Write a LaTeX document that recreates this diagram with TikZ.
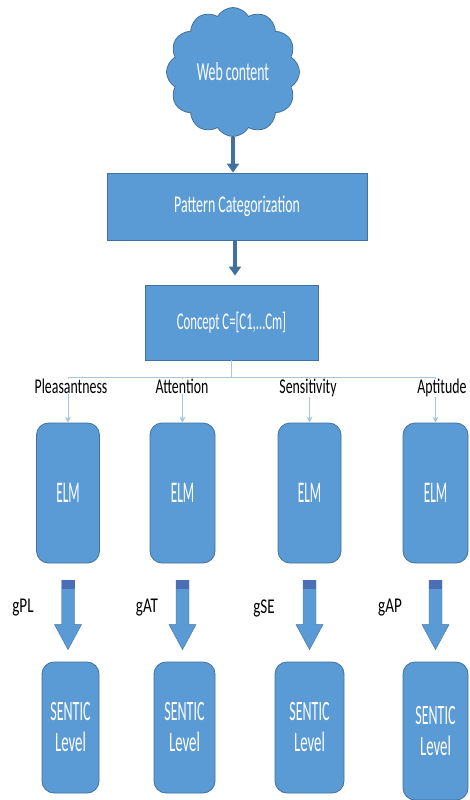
\documentclass[tikz,border=0pt]{standalone}
\usepackage{fontspec}
\setmainfont{Carlito}
\usepackage{graphicx}
\usetikzlibrary{shapes.symbols,arrows.meta,calc}
\definecolor{boxblue}{HTML}{5B9BD5}
\definecolor{boxedge}{HTML}{41719C}
\definecolor{connline}{HTML}{A9C4DE}
\definecolor{arrowtop}{HTML}{4A6FB5}
\newcommand{\sq}[2]{\scalebox{#1}[1]{#2}}
\newcommand{\blockarrow}[2]{%
  \path let \p1=(#1.south), \p2=(#2.north) in
    [fill=boxblue,draw=boxedge,line width=0.4pt]
    (\x1-6.5pt,\y1-17pt) -- (\x1+6.5pt,\y1-17pt) -- (\x1+6.5pt,\y2+37pt)
    -- (\x1+13.5pt,\y2+37pt) -- (\x1,\y2+12pt) -- (\x1-13.5pt,\y2+37pt)
    -- (\x1-6.5pt,\y2+37pt) -- cycle;
  \path let \p1=(#1.south) in
    [fill=arrowtop] (\x1-6.5pt,\y1-17pt) rectangle (\x1+6.5pt,\y1-26pt);}
\begin{document}
\begin{tikzpicture}[x=1pt,y=-1pt,
  bluebox/.style={fill=boxblue,draw=boxedge,line width=0.8pt,text=white,inner sep=0pt},
  tallbox/.style={bluebox,rounded corners=12pt,minimum width=63pt,minimum height=140pt,
    font=\fontsize{30}{30}\selectfont},
  levelbox/.style={bluebox,rounded corners=12pt,minimum height=131pt,align=center,
    font=\fontsize{28}{31}\selectfont},
  lab/.style={fill=white,inner sep=0pt,text=black,font=\fontsize{21}{21}\selectfont},
  glab/.style={inner sep=0pt,text=black,font=\fontsize{21}{21}\selectfont},
  conn/.style={draw=connline,line width=0.8pt},
  bigarrow/.style={draw=boxedge,line width=4pt,-{Triangle[width=12pt,length=9pt]}},
]
\useasboundingbox (0,0) rectangle (469,800);

% top part
\node[cloud,cloud puffs=12,cloud puff arc=120,aspect=1.0,fill=boxblue,draw=boxedge,
  line width=0.8pt,minimum width=133pt,minimum height=129pt,text=white,inner sep=0pt,
  font=\fontsize{26}{26}\selectfont] (web) at (233,72) {\sq{0.53}{Web content}};
\node[bluebox,minimum width=260pt,minimum height=67pt,font=\fontsize{24}{24}\selectfont]
  (pat) at (237,206.5) {\sq{0.58}{Pattern Categorization}};
\node[bluebox,minimum width=173pt,minimum height=75pt,font=\fontsize{24}{24}\selectfont]
  (con) at (231.5,322.5) {\sq{0.53}{Concept C=[C1,...Cm]}};

\draw[bigarrow] (web.south) -- (web.south |- pat.north);
\draw[bigarrow,shorten >=9pt] (pat.south -| 235,0) -- (con.north -| 235,0);

% ELM boxes
\node[tallbox] (e1) at (68,493) {\sq{0.44}{ELM}};
\node[tallbox,minimum width=65pt] (e2) at (182.5,493) {\sq{0.44}{ELM}};
\node[tallbox] (e3) at (309.5,493) {\sq{0.44}{ELM}};
\node[tallbox,minimum width=65pt] (e4) at (435.5,493) {\sq{0.44}{ELM}};

% SENTIC boxes
\node[levelbox,minimum width=57pt] (s1) at (70.5,727.5) {\sq{0.5}{SENTIC}\\\sq{0.53}{Level}};
\node[levelbox,minimum width=61pt] (s2) at (184.5,727.5) {\sq{0.5}{SENTIC}\\\sq{0.53}{Level}};
\node[levelbox,minimum width=69pt] (s3) at (309.5,727.5) {\sq{0.5}{SENTIC}\\\sq{0.53}{Level}};
\node[levelbox,minimum width=65pt,minimum height=138pt] (s4) at (435.5,731) {\sq{0.5}{SENTIC}\\\sq{0.53}{Level}};

% connector tree
\coordinate (bus) at ($(con.south)+(0,17)$);
\draw[conn] (con.south) -- (bus);
\draw[conn] (e1.north |- bus) -- (e4.north |- bus);
\foreach \e in {e1,e2,e3,e4}
  \draw[conn,-{Stealth[length=6pt,width=6pt]}] (\e.north |- bus) -- (\e.north);

% labels
\node[lab,anchor=north] (l1) at (71,379) {\sq{0.66}{Pleasantness}};
\node[lab,anchor=north] (l2) at (182,379) {\sq{0.66}{Attention}};
\node[lab,anchor=north] (l3) at (308,379) {\sq{0.66}{Sensitivity}};
\node[lab,anchor=north] (l4) at (442,379) {\sq{0.66}{Aptitude}};

% block arrows
\blockarrow{e1}{s1}
\blockarrow{e2}{s2}
\blockarrow{e3}{s3}
\blockarrow{e4}{s4}

\node[glab] (g1) at (23,608) {\sq{0.72}{gPL}};
\node[glab] (g2) at (147,608) {\sq{0.72}{gAT}};
\node[glab] (g3) at (264,608) {\sq{0.72}{gSE}};
\node[glab] (g4) at (390,608) {\sq{0.72}{gAP}};
\end{tikzpicture}
\end{document}
